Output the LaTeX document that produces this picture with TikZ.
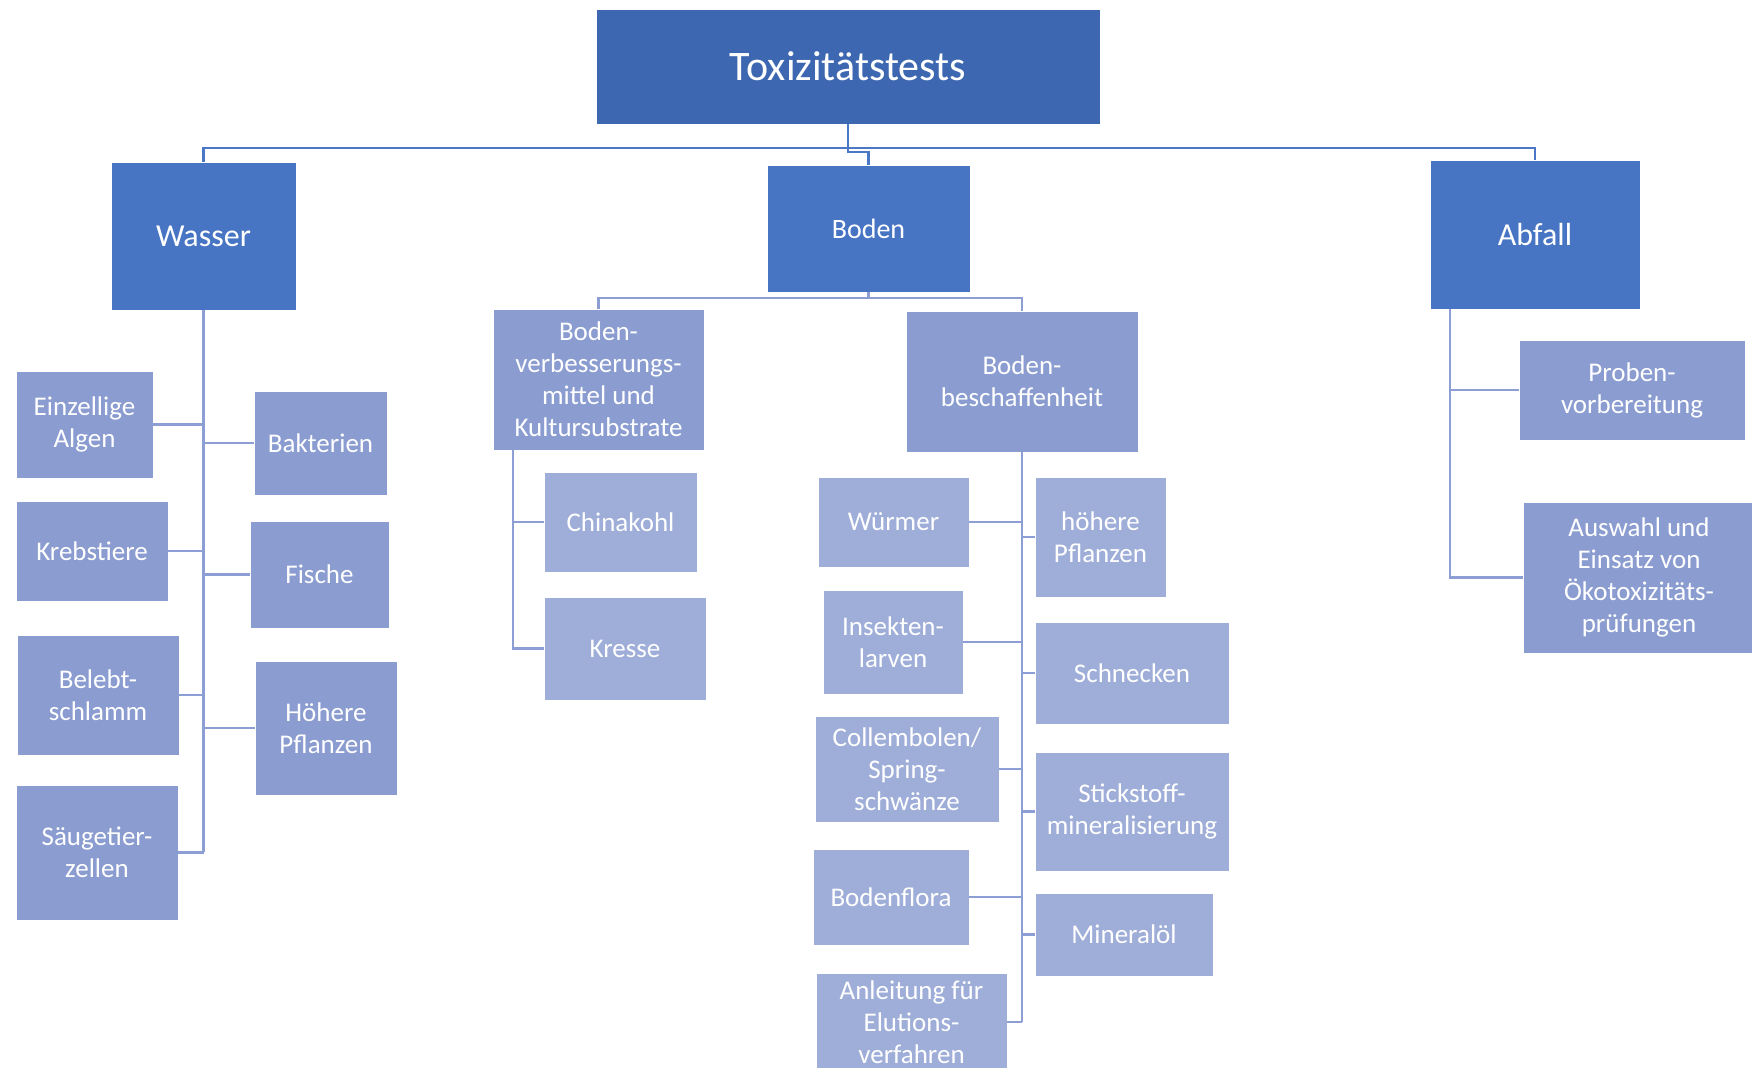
\documentclass[tikz,border=0pt]{standalone}
\usepackage{fontspec}
\setmainfont{Carlito}
\definecolor{ctop}{HTML}{3D67B1}
\definecolor{clvA}{HTML}{4775C4}
\definecolor{clvB}{HTML}{8A9CD0}
\definecolor{clvC}{HTML}{9FAED8}
\definecolor{ltop}{HTML}{4A78C6}
\definecolor{lsub}{HTML}{8C9ED3}
\newcommand{\drawbox}[7]{%
  \node[#2, minimum width={(#5-#3)*0.5pt}, minimum height={(#6-#4)*0.5pt}] (#1) at ({(#3+#5)/2},{(#4+#6)/2}) {#7};}
\begin{document}
\begin{tikzpicture}[x=0.5pt,y=-0.5pt,
  base/.style={rectangle, draw=white, line width=0.4pt, inner sep=0pt, outer sep=0pt, align=center, text=white},
  toxibox/.style={base, fill=ctop, font=\fontsize{21}{25}\selectfont},
  mainbox/.style={base, fill=clvA, font=\fontsize{16}{19}\selectfont},
  bodenbox/.style={base, fill=clvA, font=\fontsize{14}{17}\selectfont},
  subbox/.style={base, fill=clvB, font=\fontsize{13.5}{16}\selectfont},
  leafbox/.style={base, fill=clvC, font=\fontsize{13.5}{16}\selectfont},
  topline/.style={draw=ltop, line width=1.3pt},
  subline/.style={draw=lsub, line width=1.3pt}]
\clip (0,0) rectangle (1752,1068);
\fill[white] (0,0) rectangle (1752,1068);
% top
\drawbox{toxi}{toxibox}{596}{9}{1100}{124}{Toxizitätstests}
\drawbox{wasser}{mainbox}{111}{162}{296}{310}{Wasser}
\drawbox{boden}{bodenbox}{767}{165}{970}{292}{Boden}
\drawbox{abfall}{mainbox}{1430}{160}{1640}{309}{Abfall}
% Wasser children
\drawbox{algen}{subbox}{16}{371}{153}{478}{Einzellige\\Algen}
\drawbox{bakterien}{subbox}{254}{391}{387}{495}{Bakterien}
\drawbox{krebs}{subbox}{16}{501}{168}{601}{Krebstiere}
\drawbox{fische}{subbox}{250}{521}{389}{628}{Fische}
\drawbox{belebt}{subbox}{17}{635}{179}{755}{Belebt-\\schlamm}
\drawbox{hpfl}{subbox}{255}{661}{397}{795}{Höhere\\Pflanzen}
\drawbox{saeuge}{subbox}{16}{785}{178}{920}{Säugetier-\\zellen}
% Boden children
\drawbox{bvm}{subbox}{493}{309}{704}{450}{Boden-\\verbesserungs-\\mittel und\\Kultursubstrate}
\drawbox{bb}{subbox}{906}{311}{1138}{452}{Boden-\\beschaffenheit}
\drawbox{china}{leafbox}{544}{472}{697}{572}{Chinakohl}
\drawbox{kresse}{leafbox}{544}{597}{706}{700}{Kresse}
\drawbox{wuermer}{leafbox}{818}{477}{969}{567}{Würmer}
\drawbox{hoeh}{leafbox}{1035}{477}{1166}{597}{höhere\\Pflanzen}
\drawbox{insekt}{leafbox}{823}{590}{963}{694}{Insekten-\\larven}
\drawbox{schnecken}{leafbox}{1035}{622}{1229}{724}{Schnecken}
\drawbox{collem}{leafbox}{815}{716}{999}{822}{Collembolen/\\Spring-\\schwänze}
\drawbox{stick}{leafbox}{1035}{752}{1229}{871}{Stickstoff-\\mineralisierung}
\drawbox{flora}{leafbox}{813}{849}{969}{945}{Bodenflora}
\drawbox{mineral}{leafbox}{1035}{893}{1213}{976}{Mineralöl}
\drawbox{anleit}{leafbox}{816}{973}{1007}{1071}{Anleitung für\\Elutions-\\verfahren}
% Abfall children
\drawbox{proben}{subbox}{1519}{340}{1745}{440}{Proben-\\vorbereitung}
\drawbox{auswahl}{subbox}{1523}{502}{1755}{653}{Auswahl und\\Einsatz von\\Ökotoxizitäts-\\prüfungen}
% top connectors
\coordinate (tj) at (848,148);
\coordinate (bj) at (848,152);
\draw[topline] (toxi.south) -- (bj) -| (boden.north);
\draw[topline] (tj) -| (wasser.north);
\draw[topline] (tj) -| (abfall.north);
% Wasser connectors
\draw[subline] (wasser.south) -- (wasser.south |- saeuge.east);
\foreach \n in {algen,krebs,belebt,saeuge}
  \draw[subline] (\n.east) -- (\n.east -| wasser.south);
\foreach \n in {bakterien,fische,hpfl}
  \draw[subline] (\n.west -| wasser.south) -- (\n.west);
% Boden connectors
\coordinate (bdj) at (868.5,298);
\draw[subline] (boden.south) -- (bdj);
\draw[subline] (bdj) -| (bvm.north);
\draw[subline] (bdj) -| (bb.north);
\coordinate (bvmt) at (513,450);
\draw[subline] (bvmt) |- (kresse.west);
\draw[subline] (bvmt |- china.west) -- (china.west);
\draw[subline] (bb.south) -- (bb.south |- anleit.east);
\foreach \n in {wuermer,insekt,collem,flora,anleit}
  \draw[subline] (\n.east) -- (\n.east -| bb.south);
\foreach \n in {hoeh,schnecken,stick,mineral}
  \draw[subline] (\n.west -| bb.south) -- (\n.west);
% Abfall connectors
\coordinate (abt) at (1450,309);
\draw[subline] (abt) |- (auswahl.west);
\draw[subline] (abt |- proben.west) -- (proben.west);
\end{tikzpicture}
\end{document}
